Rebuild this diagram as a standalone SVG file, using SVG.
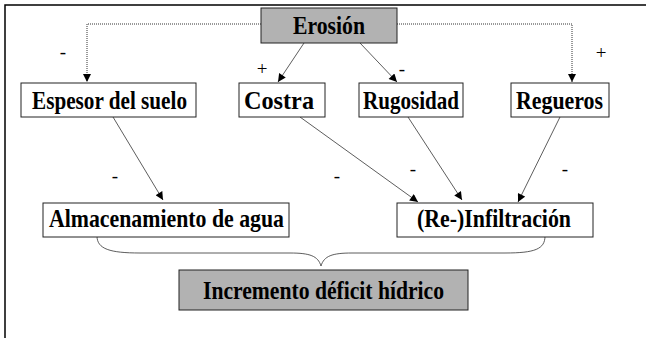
<svg xmlns="http://www.w3.org/2000/svg" width="651" height="338" viewBox="0 0 651 338">
<style>
.box{fill:#fff;stroke:#222;stroke-width:1}
.gray{fill:#b2b2b2;stroke:#222;stroke-width:1}
.t{font-family:"Liberation Serif","Times New Roman",serif;font-weight:bold;font-size:26px;fill:#000}
.s{font-family:"Liberation Serif","Times New Roman",serif;font-size:19px;fill:#000;text-anchor:middle}
.c{fill:none;stroke:#333;stroke-width:0.8}
.d{fill:none;stroke:#333;stroke-width:1;stroke-dasharray:1 1}
</style>
<defs>
<marker id="ah" viewBox="0 0 10 10" refX="10" refY="5" markerWidth="9" markerHeight="8" markerUnits="userSpaceOnUse" orient="auto">
<path d="M0,0 L10,5 L0,10 Z" fill="#000"/>
</marker>
</defs>
<rect width="651" height="338" fill="#fff"/>
<path d="M5,338 V5 H646" fill="none" stroke="#000" stroke-width="1.5"/>
<g id="connectors">
<path class="d" d="M261,24 H87 V82" marker-end="url(#ah)"/>
<path class="d" d="M397,24 H572 V82" marker-end="url(#ah)"/>
<path class="c" d="M304,43 L278,82" marker-end="url(#ah)"/>
<path class="c" d="M360,43 L397,82" marker-end="url(#ah)"/>
<path class="c" d="M113,117 L163,200" marker-end="url(#ah)"/>
<path class="c" d="M300,117 L418,202" marker-end="url(#ah)"/>
<path class="c" d="M408,117 L462,200" marker-end="url(#ah)"/>
<path class="c" d="M560,117 L518,202" marker-end="url(#ah)"/>
<path class="c" d="M97,236 C97,249 110,253 140,253 L290,253 C310,253 318,256 321,266 C324,256 332,253 352,253 L505,253 C535,253 545,249 545,236" stroke-width="1"/>
</g>
<g id="labels">
<text class="s" x="63" y="58">-</text>
<text class="s" x="262" y="75">+</text>
<text class="s" x="402" y="75">-</text>
<text class="s" x="601" y="59">+</text>
<text class="s" x="115" y="182">-</text>
<text class="s" x="337" y="182">-</text>
<text class="s" x="413" y="175">-</text>
<text class="s" x="565" y="175">-</text>
</g>
<g id="erosion">
<rect class="gray" x="261" y="8" width="136" height="35"/>
<text class="t" x="293" y="34" textLength="72" lengthAdjust="spacingAndGlyphs">Erosión</text>
</g>
<g id="espesor">
<rect class="box" x="21" y="83" width="175" height="34"/>
<text class="t" x="32" y="109" textLength="155" lengthAdjust="spacingAndGlyphs">Espesor del suelo</text>
</g>
<g id="costra">
<rect class="box" x="239" y="83" width="86" height="34"/>
<text class="t" x="244" y="109" textLength="70" lengthAdjust="spacingAndGlyphs">Costra</text>
</g>
<g id="rugosidad">
<rect class="box" x="359" y="83" width="104" height="34"/>
<text class="t" x="363" y="109" textLength="96" lengthAdjust="spacingAndGlyphs">Rugosidad</text>
</g>
<g id="regueros">
<rect class="box" x="511" y="83" width="98" height="34"/>
<text class="t" x="516" y="109" textLength="87" lengthAdjust="spacingAndGlyphs">Regueros</text>
</g>
<g id="almacenamiento">
<rect class="box" x="43" y="203" width="246" height="34"/>
<text class="t" x="49" y="227" textLength="235" lengthAdjust="spacingAndGlyphs">Almacenamiento de agua</text>
</g>
<g id="infiltracion">
<rect class="box" x="397" y="203" width="196" height="34"/>
<text class="t" x="417" y="227" textLength="154" lengthAdjust="spacingAndGlyphs">(Re-)Infiltración</text>
</g>
<g id="incremento">
<rect class="gray" x="179" y="270" width="289" height="40"/>
<text class="t" x="203" y="299" textLength="241" lengthAdjust="spacingAndGlyphs">Incremento déficit hídrico</text>
</g>
</svg>
